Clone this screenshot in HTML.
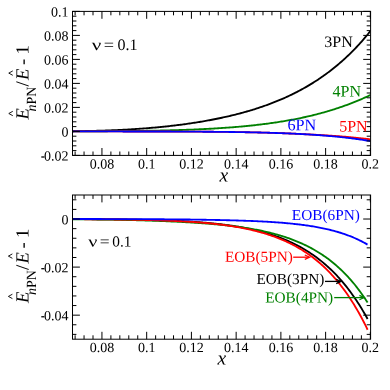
<!DOCTYPE html>
<html><head><meta charset="utf-8"><title>chart</title>
<style>html,body{margin:0;padding:0;background:#fff;width:390px;height:390px;overflow:hidden}</style></head>
<body>
<svg width="390" height="390" viewBox="0 0 390 390" style="position:absolute;left:0;top:0;will-change:transform" font-family="Liberation Serif, serif">
<rect width="390" height="390" fill="#fff"/>
<clipPath id="ct"><rect x="72.5" y="11.4" width="298.1" height="144.0"/></clipPath>
<g clip-path="url(#ct)">
<path d="M72.13,131.22 L73.38,131.21 L74.62,131.20 L75.87,131.18 L77.12,131.16 L78.37,131.15 L79.62,131.13 L80.86,131.11 L82.11,131.09 L83.36,131.07 L84.61,131.05 L85.85,131.03 L87.10,131.00 L88.35,130.98 L89.60,130.95 L90.84,130.92 L92.09,130.90 L93.34,130.87 L94.59,130.84 L95.84,130.80 L97.08,130.77 L98.33,130.74 L99.58,130.70 L100.83,130.67 L102.07,130.63 L103.32,130.59 L104.57,130.55 L105.82,130.50 L107.07,130.46 L108.31,130.42 L109.56,130.37 L110.81,130.32 L112.06,130.27 L113.30,130.22 L114.55,130.17 L115.80,130.11 L117.05,130.06 L118.30,130.00 L119.54,129.94 L120.79,129.88 L122.04,129.82 L123.29,129.76 L124.53,129.69 L125.78,129.63 L127.03,129.56 L128.28,129.49 L129.53,129.41 L130.77,129.34 L132.02,129.26 L133.27,129.19 L134.52,129.11 L135.76,129.03 L137.01,128.94 L138.26,128.86 L139.51,128.77 L140.76,128.68 L142.00,128.59 L143.25,128.50 L144.50,128.40 L145.75,128.31 L146.99,128.21 L148.24,128.11 L149.49,128.01 L150.74,127.90 L151.98,127.79 L153.23,127.69 L154.48,127.57 L155.73,127.46 L156.98,127.35 L158.22,127.23 L159.47,127.11 L160.72,126.99 L161.97,126.86 L163.21,126.74 L164.46,126.61 L165.71,126.48 L166.96,126.34 L168.21,126.21 L169.45,126.07 L170.70,125.93 L171.95,125.79 L173.20,125.64 L174.44,125.49 L175.69,125.34 L176.94,125.19 L178.19,125.03 L179.44,124.88 L180.68,124.72 L181.93,124.55 L183.18,124.39 L184.43,124.22 L185.67,124.05 L186.92,123.87 L188.17,123.69 L189.42,123.52 L190.67,123.33 L191.91,123.15 L193.16,122.96 L194.41,122.77 L195.66,122.57 L196.90,122.38 L198.15,122.18 L199.40,121.97 L200.65,121.77 L201.90,121.56 L203.14,121.34 L204.39,121.13 L205.64,120.91 L206.89,120.68 L208.13,120.46 L209.38,120.23 L210.63,119.99 L211.88,119.76 L213.12,119.52 L214.37,119.27 L215.62,119.03 L216.87,118.78 L218.12,118.52 L219.36,118.26 L220.61,118.00 L221.86,117.73 L223.11,117.46 L224.35,117.19 L225.60,116.91 L226.85,116.63 L228.10,116.34 L229.35,116.05 L230.59,115.76 L231.84,115.46 L233.09,115.15 L234.34,114.85 L235.58,114.53 L236.83,114.22 L238.08,113.89 L239.33,113.57 L240.58,113.24 L241.82,112.90 L243.07,112.56 L244.32,112.21 L245.57,111.86 L246.81,111.51 L248.06,111.15 L249.31,110.78 L250.56,110.41 L251.81,110.03 L253.05,109.65 L254.30,109.26 L255.55,108.87 L256.80,108.47 L258.04,108.06 L259.29,107.65 L260.54,107.23 L261.79,106.81 L263.04,106.38 L264.28,105.94 L265.53,105.50 L266.78,105.05 L268.03,104.60 L269.27,104.13 L270.52,103.66 L271.77,103.19 L273.02,102.71 L274.26,102.22 L275.51,101.72 L276.76,101.22 L278.01,100.70 L279.26,100.18 L280.50,99.66 L281.75,99.12 L283.00,98.58 L284.25,98.03 L285.49,97.47 L286.74,96.91 L287.99,96.33 L289.24,95.75 L290.49,95.15 L291.73,94.55 L292.98,93.94 L294.23,93.33 L295.48,92.70 L296.72,92.06 L297.97,91.41 L299.22,90.76 L300.47,90.09 L301.72,89.41 L302.96,88.73 L304.21,88.03 L305.46,87.33 L306.71,86.61 L307.95,85.88 L309.20,85.14 L310.45,84.39 L311.70,83.63 L312.95,82.86 L314.19,82.07 L315.44,81.28 L316.69,80.47 L317.94,79.65 L319.18,78.82 L320.43,77.97 L321.68,77.11 L322.93,76.24 L324.18,75.36 L325.42,74.46 L326.67,73.55 L327.92,72.63 L329.17,71.69 L330.41,70.73 L331.66,69.77 L332.91,68.78 L334.16,67.79 L335.40,66.77 L336.65,65.75 L337.90,64.70 L339.15,63.64 L340.40,62.57 L341.64,61.48 L342.89,60.37 L344.14,59.24 L345.39,58.10 L346.63,56.94 L347.88,55.76 L349.13,54.56 L350.38,53.35 L351.63,52.11 L352.87,50.86 L354.12,49.59 L355.37,48.30 L356.62,46.99 L357.86,45.65 L359.11,44.30 L360.36,42.93 L361.61,41.53 L362.86,40.11 L364.10,38.68 L365.35,37.21 L366.60,35.73 L367.85,34.22 L369.09,32.69 L370.34,31.14" fill="none" stroke="#000000" stroke-width="1.85" stroke-linejoin="round" stroke-linecap="butt"/>
<path d="M72.13,131.34 L73.38,131.34 L74.62,131.34 L75.87,131.34 L77.12,131.33 L78.37,131.33 L79.62,131.33 L80.86,131.32 L82.11,131.32 L83.36,131.31 L84.61,131.31 L85.85,131.31 L87.10,131.30 L88.35,131.30 L89.60,131.29 L90.84,131.29 L92.09,131.28 L93.34,131.28 L94.59,131.27 L95.84,131.27 L97.08,131.26 L98.33,131.26 L99.58,131.25 L100.83,131.24 L102.07,131.24 L103.32,131.23 L104.57,131.22 L105.82,131.21 L107.07,131.21 L108.31,131.20 L109.56,131.19 L110.81,131.18 L112.06,131.17 L113.30,131.17 L114.55,131.16 L115.80,131.15 L117.05,131.14 L118.30,131.13 L119.54,131.12 L120.79,131.11 L122.04,131.09 L123.29,131.08 L124.53,131.07 L125.78,131.06 L127.03,131.05 L128.28,131.03 L129.53,131.02 L130.77,131.01 L132.02,130.99 L133.27,130.98 L134.52,130.96 L135.76,130.95 L137.01,130.93 L138.26,130.91 L139.51,130.90 L140.76,130.88 L142.00,130.86 L143.25,130.84 L144.50,130.83 L145.75,130.81 L146.99,130.79 L148.24,130.77 L149.49,130.74 L150.74,130.72 L151.98,130.70 L153.23,130.68 L154.48,130.65 L155.73,130.63 L156.98,130.61 L158.22,130.58 L159.47,130.55 L160.72,130.53 L161.97,130.50 L163.21,130.47 L164.46,130.44 L165.71,130.41 L166.96,130.38 L168.21,130.35 L169.45,130.32 L170.70,130.29 L171.95,130.26 L173.20,130.22 L174.44,130.19 L175.69,130.15 L176.94,130.11 L178.19,130.07 L179.44,130.04 L180.68,130.00 L181.93,129.96 L183.18,129.91 L184.43,129.87 L185.67,129.83 L186.92,129.78 L188.17,129.74 L189.42,129.69 L190.67,129.64 L191.91,129.60 L193.16,129.55 L194.41,129.49 L195.66,129.44 L196.90,129.39 L198.15,129.33 L199.40,129.28 L200.65,129.22 L201.90,129.16 L203.14,129.10 L204.39,129.04 L205.64,128.98 L206.89,128.91 L208.13,128.85 L209.38,128.78 L210.63,128.72 L211.88,128.65 L213.12,128.57 L214.37,128.50 L215.62,128.43 L216.87,128.35 L218.12,128.28 L219.36,128.20 L220.61,128.12 L221.86,128.03 L223.11,127.95 L224.35,127.87 L225.60,127.78 L226.85,127.69 L228.10,127.60 L229.35,127.51 L230.59,127.41 L231.84,127.31 L233.09,127.22 L234.34,127.12 L235.58,127.01 L236.83,126.91 L238.08,126.80 L239.33,126.69 L240.58,126.58 L241.82,126.47 L243.07,126.36 L244.32,126.24 L245.57,126.12 L246.81,126.00 L248.06,125.87 L249.31,125.75 L250.56,125.62 L251.81,125.49 L253.05,125.35 L254.30,125.22 L255.55,125.08 L256.80,124.94 L258.04,124.79 L259.29,124.65 L260.54,124.50 L261.79,124.35 L263.04,124.19 L264.28,124.03 L265.53,123.87 L266.78,123.71 L268.03,123.55 L269.27,123.38 L270.52,123.20 L271.77,123.03 L273.02,122.85 L274.26,122.67 L275.51,122.48 L276.76,122.30 L278.01,122.11 L279.26,121.91 L280.50,121.71 L281.75,121.51 L283.00,121.31 L284.25,121.10 L285.49,120.89 L286.74,120.67 L287.99,120.45 L289.24,120.23 L290.49,120.00 L291.73,119.77 L292.98,119.54 L294.23,119.30 L295.48,119.06 L296.72,118.81 L297.97,118.56 L299.22,118.31 L300.47,118.05 L301.72,117.79 L302.96,117.52 L304.21,117.25 L305.46,116.98 L306.71,116.70 L307.95,116.41 L309.20,116.12 L310.45,115.83 L311.70,115.53 L312.95,115.23 L314.19,114.92 L315.44,114.61 L316.69,114.29 L317.94,113.97 L319.18,113.64 L320.43,113.31 L321.68,112.97 L322.93,112.63 L324.18,112.28 L325.42,111.93 L326.67,111.57 L327.92,111.20 L329.17,110.83 L330.41,110.46 L331.66,110.08 L332.91,109.69 L334.16,109.30 L335.40,108.90 L336.65,108.49 L337.90,108.08 L339.15,107.66 L340.40,107.24 L341.64,106.81 L342.89,106.38 L344.14,105.93 L345.39,105.49 L346.63,105.03 L347.88,104.57 L349.13,104.10 L350.38,103.63 L351.63,103.14 L352.87,102.66 L354.12,102.16 L355.37,101.66 L356.62,101.15 L357.86,100.63 L359.11,100.10 L360.36,99.57 L361.61,99.03 L362.86,98.49 L364.10,97.93 L365.35,97.37 L366.60,96.80 L367.85,96.22 L369.09,95.63 L370.34,95.04" fill="none" stroke="#008000" stroke-width="1.85" stroke-linejoin="round" stroke-linecap="butt"/>
<path d="M72.13,131.41 L73.38,131.42 L74.62,131.42 L75.87,131.42 L77.12,131.42 L78.37,131.42 L79.62,131.42 L80.86,131.42 L82.11,131.42 L83.36,131.42 L84.61,131.42 L85.85,131.42 L87.10,131.42 L88.35,131.42 L89.60,131.42 L90.84,131.42 L92.09,131.42 L93.34,131.42 L94.59,131.42 L95.84,131.43 L97.08,131.43 L98.33,131.43 L99.58,131.43 L100.83,131.43 L102.07,131.43 L103.32,131.43 L104.57,131.43 L105.82,131.43 L107.07,131.43 L108.31,131.43 L109.56,131.43 L110.81,131.44 L112.06,131.44 L113.30,131.44 L114.55,131.44 L115.80,131.44 L117.05,131.44 L118.30,131.44 L119.54,131.44 L120.79,131.44 L122.04,131.45 L123.29,131.45 L124.53,131.45 L125.78,131.45 L127.03,131.45 L128.28,131.45 L129.53,131.45 L130.77,131.46 L132.02,131.46 L133.27,131.46 L134.52,131.46 L135.76,131.46 L137.01,131.46 L138.26,131.47 L139.51,131.47 L140.76,131.47 L142.00,131.47 L143.25,131.48 L144.50,131.48 L145.75,131.48 L146.99,131.48 L148.24,131.48 L149.49,131.49 L150.74,131.49 L151.98,131.49 L153.23,131.49 L154.48,131.50 L155.73,131.50 L156.98,131.50 L158.22,131.51 L159.47,131.51 L160.72,131.51 L161.97,131.52 L163.21,131.52 L164.46,131.52 L165.71,131.53 L166.96,131.53 L168.21,131.54 L169.45,131.54 L170.70,131.54 L171.95,131.55 L173.20,131.55 L174.44,131.56 L175.69,131.56 L176.94,131.57 L178.19,131.57 L179.44,131.58 L180.68,131.58 L181.93,131.59 L183.18,131.59 L184.43,131.60 L185.67,131.60 L186.92,131.61 L188.17,131.62 L189.42,131.62 L190.67,131.63 L191.91,131.64 L193.16,131.64 L194.41,131.65 L195.66,131.66 L196.90,131.67 L198.15,131.67 L199.40,131.68 L200.65,131.69 L201.90,131.70 L203.14,131.71 L204.39,131.72 L205.64,131.73 L206.89,131.74 L208.13,131.75 L209.38,131.76 L210.63,131.77 L211.88,131.78 L213.12,131.79 L214.37,131.80 L215.62,131.81 L216.87,131.83 L218.12,131.84 L219.36,131.85 L220.61,131.86 L221.86,131.88 L223.11,131.89 L224.35,131.91 L225.60,131.92 L226.85,131.94 L228.10,131.95 L229.35,131.97 L230.59,131.98 L231.84,132.00 L233.09,132.02 L234.34,132.03 L235.58,132.05 L236.83,132.07 L238.08,132.09 L239.33,132.11 L240.58,132.13 L241.82,132.15 L243.07,132.17 L244.32,132.19 L245.57,132.22 L246.81,132.24 L248.06,132.26 L249.31,132.29 L250.56,132.31 L251.81,132.34 L253.05,132.36 L254.30,132.39 L255.55,132.42 L256.80,132.45 L258.04,132.47 L259.29,132.50 L260.54,132.53 L261.79,132.57 L263.04,132.60 L264.28,132.63 L265.53,132.66 L266.78,132.70 L268.03,132.73 L269.27,132.77 L270.52,132.81 L271.77,132.84 L273.02,132.88 L274.26,132.92 L275.51,132.96 L276.76,133.00 L278.01,133.05 L279.26,133.09 L280.50,133.14 L281.75,133.18 L283.00,133.23 L284.25,133.28 L285.49,133.32 L286.74,133.38 L287.99,133.43 L289.24,133.48 L290.49,133.53 L291.73,133.59 L292.98,133.64 L294.23,133.70 L295.48,133.76 L296.72,133.82 L297.97,133.87 L299.22,133.93 L300.47,133.99 L301.72,134.05 L302.96,134.11 L304.21,134.17 L305.46,134.24 L306.71,134.30 L307.95,134.36 L309.20,134.43 L310.45,134.49 L311.70,134.56 L312.95,134.62 L314.19,134.69 L315.44,134.76 L316.69,134.83 L317.94,134.90 L319.18,134.97 L320.43,135.04 L321.68,135.12 L322.93,135.19 L324.18,135.27 L325.42,135.34 L326.67,135.42 L327.92,135.50 L329.17,135.58 L330.41,135.67 L331.66,135.75 L332.91,135.84 L334.16,135.92 L335.40,136.01 L336.65,136.10 L337.90,136.20 L339.15,136.29 L340.40,136.39 L341.64,136.48 L342.89,136.58 L344.14,136.68 L345.39,136.79 L346.63,136.89 L347.88,137.00 L349.13,137.11 L350.38,137.22 L351.63,137.33 L352.87,137.45 L354.12,137.57 L355.37,137.69 L356.62,137.81 L357.86,137.94 L359.11,138.06 L360.36,138.20 L361.61,138.33 L362.86,138.47 L364.10,138.60 L365.35,138.75 L366.60,138.89 L367.85,139.04 L369.09,139.19 L370.34,139.34" fill="none" stroke="#ff0000" stroke-width="1.85" stroke-linejoin="round" stroke-linecap="butt"/>
<path d="M72.13,131.41 L73.38,131.42 L74.62,131.42 L75.87,131.42 L77.12,131.42 L78.37,131.42 L79.62,131.42 L80.86,131.42 L82.11,131.42 L83.36,131.42 L84.61,131.42 L85.85,131.42 L87.10,131.42 L88.35,131.42 L89.60,131.42 L90.84,131.42 L92.09,131.42 L93.34,131.42 L94.59,131.42 L95.84,131.43 L97.08,131.43 L98.33,131.43 L99.58,131.43 L100.83,131.43 L102.07,131.43 L103.32,131.43 L104.57,131.43 L105.82,131.43 L107.07,131.43 L108.31,131.43 L109.56,131.43 L110.81,131.44 L112.06,131.44 L113.30,131.44 L114.55,131.44 L115.80,131.44 L117.05,131.44 L118.30,131.44 L119.54,131.44 L120.79,131.44 L122.04,131.45 L123.29,131.45 L124.53,131.45 L125.78,131.45 L127.03,131.45 L128.28,131.45 L129.53,131.45 L130.77,131.46 L132.02,131.46 L133.27,131.46 L134.52,131.46 L135.76,131.46 L137.01,131.46 L138.26,131.47 L139.51,131.47 L140.76,131.47 L142.00,131.47 L143.25,131.48 L144.50,131.48 L145.75,131.48 L146.99,131.48 L148.24,131.48 L149.49,131.49 L150.74,131.49 L151.98,131.49 L153.23,131.49 L154.48,131.50 L155.73,131.50 L156.98,131.50 L158.22,131.51 L159.47,131.51 L160.72,131.51 L161.97,131.52 L163.21,131.52 L164.46,131.52 L165.71,131.53 L166.96,131.53 L168.21,131.54 L169.45,131.54 L170.70,131.54 L171.95,131.55 L173.20,131.55 L174.44,131.56 L175.69,131.56 L176.94,131.57 L178.19,131.57 L179.44,131.58 L180.68,131.58 L181.93,131.59 L183.18,131.59 L184.43,131.60 L185.67,131.60 L186.92,131.61 L188.17,131.62 L189.42,131.62 L190.67,131.63 L191.91,131.64 L193.16,131.64 L194.41,131.65 L195.66,131.66 L196.90,131.67 L198.15,131.67 L199.40,131.68 L200.65,131.69 L201.90,131.70 L203.14,131.71 L204.39,131.72 L205.64,131.73 L206.89,131.74 L208.13,131.75 L209.38,131.76 L210.63,131.77 L211.88,131.78 L213.12,131.79 L214.37,131.80 L215.62,131.81 L216.87,131.83 L218.12,131.84 L219.36,131.85 L220.61,131.86 L221.86,131.88 L223.11,131.89 L224.35,131.91 L225.60,131.92 L226.85,131.94 L228.10,131.95 L229.35,131.97 L230.59,131.98 L231.84,132.00 L233.09,132.02 L234.34,132.03 L235.58,132.05 L236.83,132.07 L238.08,132.09 L239.33,132.11 L240.58,132.13 L241.82,132.15 L243.07,132.17 L244.32,132.19 L245.57,132.22 L246.81,132.24 L248.06,132.26 L249.31,132.29 L250.56,132.31 L251.81,132.34 L253.05,132.36 L254.30,132.39 L255.55,132.42 L256.80,132.45 L258.04,132.47 L259.29,132.50 L260.54,132.53 L261.79,132.57 L263.04,132.60 L264.28,132.63 L265.53,132.66 L266.78,132.70 L268.03,132.73 L269.27,132.77 L270.52,132.81 L271.77,132.84 L273.02,132.88 L274.26,132.92 L275.51,132.96 L276.76,133.00 L278.01,133.05 L279.26,133.09 L280.50,133.14 L281.75,133.18 L283.00,133.23 L284.25,133.28 L285.49,133.32 L286.74,133.38 L287.99,133.43 L289.24,133.48 L290.49,133.53 L291.73,133.59 L292.98,133.64 L294.23,133.70 L295.48,133.76 L296.72,133.82 L297.97,133.88 L299.22,133.95 L300.47,134.01 L301.72,134.08 L302.96,134.15 L304.21,134.22 L305.46,134.29 L306.71,134.36 L307.95,134.43 L309.20,134.51 L310.45,134.59 L311.70,134.67 L312.95,134.75 L314.19,134.83 L315.44,134.91 L316.69,135.00 L317.94,135.09 L319.18,135.18 L320.43,135.27 L321.68,135.37 L322.93,135.46 L324.18,135.56 L325.42,135.66 L326.67,135.76 L327.92,135.87 L329.17,135.98 L330.41,136.09 L331.66,136.20 L332.91,136.31 L334.16,136.43 L335.40,136.55 L336.65,136.67 L337.90,136.79 L339.15,136.92 L340.40,137.05 L341.64,137.18 L342.89,137.32 L344.14,137.45 L345.39,137.59 L346.63,137.74 L347.88,137.88 L349.13,138.03 L350.38,138.18 L351.63,138.34 L352.87,138.50 L354.12,138.66 L355.37,138.83 L356.62,138.99 L357.86,139.17 L359.11,139.34 L360.36,139.52 L361.61,139.70 L362.86,139.89 L364.10,140.08 L365.35,140.27 L366.60,140.47 L367.85,140.67 L369.09,140.87 L370.34,141.08" fill="none" stroke="#0000ff" stroke-width="1.85" stroke-linejoin="round" stroke-linecap="butt"/>
</g>
<clipPath id="cb"><rect x="72.5" y="195.0" width="298.1" height="144.2"/></clipPath>
<g clip-path="url(#cb)">
<path d="M72.50,219.11 L73.73,219.12 L74.97,219.12 L76.20,219.13 L77.44,219.13 L78.67,219.14 L79.91,219.14 L81.14,219.15 L82.38,219.15 L83.61,219.16 L84.85,219.17 L86.08,219.17 L87.32,219.18 L88.55,219.19 L89.79,219.19 L91.02,219.20 L92.26,219.21 L93.49,219.21 L94.73,219.22 L95.96,219.23 L97.19,219.24 L98.43,219.25 L99.66,219.26 L100.90,219.26 L102.13,219.27 L103.37,219.28 L104.60,219.29 L105.84,219.30 L107.07,219.31 L108.31,219.32 L109.54,219.34 L110.78,219.35 L112.01,219.36 L113.25,219.37 L114.48,219.38 L115.72,219.40 L116.95,219.41 L118.18,219.42 L119.42,219.44 L120.65,219.45 L121.89,219.47 L123.12,219.48 L124.36,219.50 L125.59,219.52 L126.83,219.53 L128.06,219.55 L129.30,219.57 L130.53,219.59 L131.77,219.61 L133.00,219.63 L134.24,219.65 L135.47,219.67 L136.71,219.69 L137.94,219.72 L139.18,219.74 L140.41,219.76 L141.64,219.79 L142.88,219.81 L144.11,219.84 L145.35,219.87 L146.58,219.90 L147.82,219.92 L149.05,219.95 L150.29,219.98 L151.52,220.02 L152.76,220.05 L153.99,220.08 L155.23,220.12 L156.46,220.15 L157.70,220.19 L158.93,220.22 L160.17,220.26 L161.40,220.30 L162.64,220.34 L163.87,220.39 L165.10,220.43 L166.34,220.47 L167.57,220.52 L168.81,220.57 L170.04,220.61 L171.28,220.66 L172.51,220.71 L173.75,220.77 L174.98,220.82 L176.22,220.88 L177.45,220.93 L178.69,220.99 L179.92,221.05 L181.16,221.11 L182.39,221.18 L183.63,221.24 L184.86,221.31 L186.09,221.38 L187.33,221.45 L188.56,221.52 L189.80,221.60 L191.03,221.68 L192.27,221.75 L193.50,221.84 L194.74,221.92 L195.97,222.00 L197.21,222.09 L198.44,222.18 L199.68,222.28 L200.91,222.37 L202.15,222.47 L203.38,222.57 L204.62,222.67 L205.85,222.78 L207.09,222.89 L208.32,223.00 L209.55,223.11 L210.79,223.23 L212.02,223.35 L213.26,223.48 L214.49,223.60 L215.73,223.73 L216.96,223.87 L218.20,224.00 L219.43,224.14 L220.67,224.29 L221.90,224.44 L223.14,224.59 L224.37,224.74 L225.61,224.90 L226.84,225.07 L228.08,225.24 L229.31,225.41 L230.55,225.58 L231.78,225.77 L233.01,225.95 L234.25,226.14 L235.48,226.34 L236.72,226.54 L237.95,226.74 L239.19,226.95 L240.42,227.17 L241.66,227.39 L242.89,227.61 L244.13,227.84 L245.36,228.08 L246.60,228.33 L247.83,228.57 L249.07,228.83 L250.30,229.09 L251.54,229.36 L252.77,229.63 L254.01,229.91 L255.24,230.20 L256.47,230.50 L257.71,230.80 L258.94,231.11 L260.18,231.43 L261.41,231.75 L262.65,232.08 L263.88,232.42 L265.12,232.77 L266.35,233.13 L267.59,233.49 L268.82,233.87 L270.06,234.25 L271.29,234.64 L272.53,235.04 L273.76,235.45 L275.00,235.87 L276.23,236.30 L277.46,236.74 L278.70,237.19 L279.93,237.65 L281.17,238.13 L282.40,238.61 L283.64,239.10 L284.87,239.61 L286.11,240.13 L287.34,240.66 L288.58,241.20 L289.81,241.75 L291.05,242.32 L292.28,242.90 L293.52,243.49 L294.75,244.10 L295.99,244.72 L297.22,245.36 L298.46,246.01 L299.69,246.68 L300.92,247.36 L302.16,248.05 L303.39,248.77 L304.63,249.50 L305.86,250.24 L307.10,251.00 L308.33,251.78 L309.57,252.58 L310.80,253.40 L312.04,254.23 L313.27,255.08 L314.51,255.96 L315.74,256.85 L316.98,257.76 L318.21,258.69 L319.45,259.65 L320.68,260.62 L321.92,261.62 L323.15,262.64 L324.38,263.68 L325.62,264.75 L326.85,265.84 L328.09,266.95 L329.32,268.09 L330.56,269.26 L331.79,270.45 L333.03,271.66 L334.26,272.91 L335.50,274.18 L336.73,275.48 L337.97,276.80 L339.20,278.16 L340.44,279.55 L341.67,280.96 L342.91,282.41 L344.14,283.89 L345.37,285.40 L346.61,286.95 L347.84,288.53 L349.08,290.14 L350.31,291.79 L351.55,293.47 L352.78,295.19 L354.02,296.95 L355.25,298.75 L356.49,300.58 L357.72,302.46 L358.96,304.37 L360.19,306.32 L361.43,308.32 L362.66,310.36 L363.90,312.44 L365.13,314.57 L366.37,316.74 L367.60,318.96" fill="none" stroke="#000000" stroke-width="1.85" stroke-linejoin="round" stroke-linecap="butt"/>
<path d="M72.50,219.23 L73.73,219.24 L74.97,219.24 L76.20,219.25 L77.44,219.26 L78.67,219.27 L79.91,219.28 L81.14,219.29 L82.38,219.31 L83.61,219.32 L84.85,219.33 L86.08,219.34 L87.32,219.35 L88.55,219.37 L89.79,219.38 L91.02,219.39 L92.26,219.41 L93.49,219.42 L94.73,219.43 L95.96,219.45 L97.19,219.46 L98.43,219.48 L99.66,219.50 L100.90,219.51 L102.13,219.53 L103.37,219.55 L104.60,219.57 L105.84,219.58 L107.07,219.60 L108.31,219.62 L109.54,219.64 L110.78,219.66 L112.01,219.68 L113.25,219.70 L114.48,219.73 L115.72,219.75 L116.95,219.77 L118.18,219.79 L119.42,219.82 L120.65,219.84 L121.89,219.87 L123.12,219.89 L124.36,219.92 L125.59,219.95 L126.83,219.97 L128.06,220.00 L129.30,220.03 L130.53,220.06 L131.77,220.09 L133.00,220.12 L134.24,220.15 L135.47,220.18 L136.71,220.22 L137.94,220.25 L139.18,220.28 L140.41,220.32 L141.64,220.35 L142.88,220.39 L144.11,220.43 L145.35,220.46 L146.58,220.50 L147.82,220.54 L149.05,220.58 L150.29,220.62 L151.52,220.67 L152.76,220.71 L153.99,220.75 L155.23,220.80 L156.46,220.84 L157.70,220.89 L158.93,220.93 L160.17,220.98 L161.40,221.03 L162.64,221.08 L163.87,221.13 L165.10,221.18 L166.34,221.24 L167.57,221.29 L168.81,221.34 L170.04,221.40 L171.28,221.46 L172.51,221.51 L173.75,221.57 L174.98,221.63 L176.22,221.69 L177.45,221.76 L178.69,221.82 L179.92,221.88 L181.16,221.95 L182.39,222.01 L183.63,222.08 L184.86,222.15 L186.09,222.22 L187.33,222.29 L188.56,222.37 L189.80,222.44 L191.03,222.51 L192.27,222.59 L193.50,222.67 L194.74,222.75 L195.97,222.83 L197.21,222.91 L198.44,222.99 L199.68,223.08 L200.91,223.16 L202.15,223.25 L203.38,223.34 L204.62,223.43 L205.85,223.52 L207.09,223.61 L208.32,223.70 L209.55,223.80 L210.79,223.90 L212.02,224.00 L213.26,224.10 L214.49,224.21 L215.73,224.32 L216.96,224.43 L218.20,224.54 L219.43,224.66 L220.67,224.78 L221.90,224.90 L223.14,225.03 L224.37,225.15 L225.61,225.28 L226.84,225.42 L228.08,225.56 L229.31,225.70 L230.55,225.84 L231.78,225.99 L233.01,226.14 L234.25,226.29 L235.48,226.45 L236.72,226.61 L237.95,226.77 L239.19,226.94 L240.42,227.12 L241.66,227.29 L242.89,227.47 L244.13,227.66 L245.36,227.85 L246.60,228.04 L247.83,228.24 L249.07,228.45 L250.30,228.66 L251.54,228.87 L252.77,229.09 L254.01,229.31 L255.24,229.54 L256.47,229.77 L257.71,230.01 L258.94,230.26 L260.18,230.51 L261.41,230.77 L262.65,231.03 L263.88,231.30 L265.12,231.57 L266.35,231.85 L267.59,232.14 L268.82,232.44 L270.06,232.74 L271.29,233.05 L272.53,233.37 L273.76,233.69 L275.00,234.02 L276.23,234.36 L277.46,234.71 L278.70,235.07 L279.93,235.43 L281.17,235.80 L282.40,236.18 L283.64,236.57 L284.87,236.97 L286.11,237.38 L287.34,237.80 L288.58,238.23 L289.81,238.67 L291.05,239.12 L292.28,239.58 L293.52,240.05 L294.75,240.53 L295.99,241.02 L297.22,241.53 L298.46,242.04 L299.69,242.57 L300.92,243.11 L302.16,243.67 L303.39,244.23 L304.63,244.81 L305.86,245.41 L307.10,246.02 L308.33,246.64 L309.57,247.28 L310.80,247.93 L312.04,248.60 L313.27,249.28 L314.51,249.98 L315.74,250.70 L316.98,251.43 L318.21,252.18 L319.45,252.95 L320.68,253.74 L321.92,254.54 L323.15,255.37 L324.38,256.21 L325.62,257.08 L326.85,257.96 L328.09,258.87 L329.32,259.80 L330.56,260.75 L331.79,261.72 L333.03,262.72 L334.26,263.74 L335.50,264.78 L336.73,265.85 L337.97,266.94 L339.20,268.06 L340.44,269.21 L341.67,270.38 L342.91,271.58 L344.14,272.81 L345.37,274.07 L346.61,275.36 L347.84,276.68 L349.08,278.03 L350.31,279.42 L351.55,280.83 L352.78,282.28 L354.02,283.77 L355.25,285.29 L356.49,286.84 L357.72,288.44 L358.96,290.07 L360.19,291.73 L361.43,293.44 L362.66,295.19 L363.90,296.98 L365.13,298.82 L366.37,300.69 L367.60,302.61" fill="none" stroke="#008000" stroke-width="1.85" stroke-linejoin="round" stroke-linecap="butt"/>
<path d="M72.50,219.14 L73.73,219.15 L74.97,219.15 L76.20,219.16 L77.44,219.17 L78.67,219.17 L79.91,219.18 L81.14,219.19 L82.38,219.19 L83.61,219.20 L84.85,219.21 L86.08,219.21 L87.32,219.22 L88.55,219.23 L89.79,219.24 L91.02,219.25 L92.26,219.26 L93.49,219.26 L94.73,219.27 L95.96,219.28 L97.19,219.29 L98.43,219.30 L99.66,219.31 L100.90,219.32 L102.13,219.33 L103.37,219.34 L104.60,219.36 L105.84,219.37 L107.07,219.38 L108.31,219.39 L109.54,219.40 L110.78,219.42 L112.01,219.43 L113.25,219.44 L114.48,219.46 L115.72,219.47 L116.95,219.49 L118.18,219.50 L119.42,219.52 L120.65,219.53 L121.89,219.55 L123.12,219.57 L124.36,219.58 L125.59,219.60 L126.83,219.62 L128.06,219.64 L129.30,219.66 L130.53,219.68 L131.77,219.70 L133.00,219.72 L134.24,219.74 L135.47,219.77 L136.71,219.79 L137.94,219.81 L139.18,219.84 L140.41,219.86 L141.64,219.89 L142.88,219.92 L144.11,219.95 L145.35,219.97 L146.58,220.00 L147.82,220.03 L149.05,220.07 L150.29,220.10 L151.52,220.13 L152.76,220.17 L153.99,220.20 L155.23,220.24 L156.46,220.27 L157.70,220.31 L158.93,220.35 L160.17,220.39 L161.40,220.43 L162.64,220.48 L163.87,220.52 L165.10,220.57 L166.34,220.61 L167.57,220.66 L168.81,220.71 L170.04,220.76 L171.28,220.81 L172.51,220.87 L173.75,220.92 L174.98,220.98 L176.22,221.03 L177.45,221.09 L178.69,221.16 L179.92,221.22 L181.16,221.28 L182.39,221.35 L183.63,221.42 L184.86,221.49 L186.09,221.56 L187.33,221.64 L188.56,221.71 L189.80,221.79 L191.03,221.87 L192.27,221.95 L193.50,222.04 L194.74,222.13 L195.97,222.22 L197.21,222.31 L198.44,222.40 L199.68,222.50 L200.91,222.60 L202.15,222.70 L203.38,222.81 L204.62,222.91 L205.85,223.02 L207.09,223.14 L208.32,223.26 L209.55,223.38 L210.79,223.50 L212.02,223.62 L213.26,223.75 L214.49,223.89 L215.73,224.02 L216.96,224.16 L218.20,224.31 L219.43,224.46 L220.67,224.61 L221.90,224.76 L223.14,224.92 L224.37,225.08 L225.61,225.25 L226.84,225.42 L228.08,225.60 L229.31,225.78 L230.55,225.97 L231.78,226.16 L233.01,226.35 L234.25,226.55 L235.48,226.76 L236.72,226.97 L237.95,227.19 L239.19,227.41 L240.42,227.63 L241.66,227.87 L242.89,228.11 L244.13,228.35 L245.36,228.60 L246.60,228.86 L247.83,229.12 L249.07,229.39 L250.30,229.67 L251.54,229.95 L252.77,230.24 L254.01,230.54 L255.24,230.85 L256.47,231.16 L257.71,231.48 L258.94,231.81 L260.18,232.15 L261.41,232.49 L262.65,232.85 L263.88,233.21 L265.12,233.58 L266.35,233.96 L267.59,234.35 L268.82,234.75 L270.06,235.16 L271.29,235.58 L272.53,236.01 L273.76,236.45 L275.00,236.90 L276.23,237.36 L277.46,237.83 L278.70,238.31 L279.93,238.81 L281.17,239.32 L282.40,239.84 L283.64,240.37 L284.87,240.92 L286.11,241.47 L287.34,242.05 L288.58,242.63 L289.81,243.23 L291.05,243.85 L292.28,244.47 L293.52,245.12 L294.75,245.78 L295.99,246.45 L297.22,247.14 L298.46,247.85 L299.69,248.58 L300.92,249.32 L302.16,250.08 L303.39,250.85 L304.63,251.65 L305.86,252.47 L307.10,253.30 L308.33,254.15 L309.57,255.03 L310.80,255.92 L312.04,256.84 L313.27,257.78 L314.51,258.74 L315.74,259.72 L316.98,260.72 L318.21,261.75 L319.45,262.81 L320.68,263.88 L321.92,264.99 L323.15,266.11 L324.38,267.27 L325.62,268.45 L326.85,269.66 L328.09,270.90 L329.32,272.17 L330.56,273.46 L331.79,274.79 L333.03,276.14 L334.26,277.53 L335.50,278.95 L336.73,280.40 L337.97,281.89 L339.20,283.41 L340.44,284.97 L341.67,286.56 L342.91,288.19 L344.14,289.85 L345.37,291.55 L346.61,293.30 L347.84,295.08 L349.08,296.90 L350.31,298.76 L351.55,300.67 L352.78,302.62 L354.02,304.61 L355.25,306.65 L356.49,308.73 L357.72,310.86 L358.96,313.04 L360.19,315.27 L361.43,317.55 L362.66,319.88 L363.90,322.26 L365.13,324.69 L366.37,327.18 L367.60,329.73" fill="none" stroke="#ff0000" stroke-width="1.85" stroke-linejoin="round" stroke-linecap="butt"/>
<path d="M72.50,219.01 L73.73,219.02 L74.97,219.02 L76.20,219.02 L77.44,219.02 L78.67,219.02 L79.91,219.02 L81.14,219.02 L82.37,219.02 L83.61,219.02 L84.84,219.02 L86.08,219.03 L87.31,219.03 L88.55,219.03 L89.78,219.03 L91.01,219.03 L92.25,219.03 L93.48,219.03 L94.72,219.04 L95.95,219.04 L97.19,219.04 L98.42,219.04 L99.65,219.04 L100.89,219.04 L102.12,219.05 L103.36,219.05 L104.59,219.05 L105.83,219.05 L107.06,219.05 L108.29,219.06 L109.53,219.06 L110.76,219.06 L112.00,219.06 L113.23,219.07 L114.47,219.07 L115.70,219.07 L116.94,219.08 L118.17,219.08 L119.40,219.08 L120.64,219.08 L121.87,219.09 L123.11,219.09 L124.34,219.09 L125.58,219.10 L126.81,219.10 L128.04,219.11 L129.28,219.11 L130.51,219.11 L131.75,219.12 L132.98,219.12 L134.22,219.13 L135.45,219.13 L136.68,219.14 L137.92,219.14 L139.15,219.15 L140.39,219.15 L141.62,219.16 L142.86,219.16 L144.09,219.17 L145.32,219.18 L146.56,219.18 L147.79,219.19 L149.03,219.19 L150.26,219.20 L151.50,219.21 L152.73,219.22 L153.96,219.22 L155.20,219.23 L156.43,219.24 L157.67,219.25 L158.90,219.25 L160.14,219.26 L161.37,219.27 L162.60,219.28 L163.84,219.29 L165.07,219.30 L166.31,219.31 L167.54,219.32 L168.78,219.33 L170.01,219.34 L171.24,219.35 L172.48,219.36 L173.71,219.37 L174.95,219.38 L176.18,219.39 L177.42,219.41 L178.65,219.42 L179.88,219.43 L181.12,219.44 L182.35,219.46 L183.59,219.47 L184.82,219.48 L186.06,219.50 L187.29,219.51 L188.53,219.53 L189.76,219.54 L190.99,219.56 L192.23,219.58 L193.46,219.59 L194.70,219.61 L195.93,219.63 L197.17,219.64 L198.40,219.66 L199.63,219.68 L200.87,219.70 L202.10,219.72 L203.34,219.74 L204.57,219.76 L205.81,219.78 L207.04,219.80 L208.27,219.82 L209.51,219.85 L210.74,219.87 L211.98,219.89 L213.21,219.92 L214.45,219.94 L215.68,219.96 L216.91,219.99 L218.15,220.02 L219.38,220.04 L220.62,220.07 L221.85,220.10 L223.09,220.13 L224.32,220.15 L225.55,220.18 L226.79,220.21 L228.02,220.25 L229.26,220.28 L230.49,220.31 L231.73,220.34 L232.96,220.38 L234.19,220.41 L235.43,220.44 L236.66,220.48 L237.90,220.52 L239.13,220.55 L240.37,220.59 L241.60,220.63 L242.83,220.67 L244.07,220.71 L245.30,220.75 L246.54,220.80 L247.77,220.84 L249.01,220.89 L250.24,220.94 L251.47,220.99 L252.71,221.04 L253.94,221.09 L255.18,221.14 L256.41,221.20 L257.65,221.25 L258.88,221.31 L260.12,221.37 L261.35,221.43 L262.58,221.50 L263.82,221.56 L265.05,221.63 L266.29,221.70 L267.52,221.77 L268.76,221.84 L269.99,221.92 L271.22,221.99 L272.46,222.07 L273.69,222.15 L274.93,222.24 L276.16,222.32 L277.40,222.41 L278.63,222.50 L279.86,222.60 L281.10,222.69 L282.33,222.79 L283.57,222.90 L284.80,223.00 L286.04,223.11 L287.27,223.22 L288.50,223.33 L289.74,223.45 L290.97,223.57 L292.21,223.70 L293.44,223.83 L294.68,223.96 L295.91,224.09 L297.14,224.23 L298.38,224.38 L299.61,224.53 L300.85,224.68 L302.08,224.83 L303.32,225.00 L304.55,225.16 L305.78,225.33 L307.02,225.51 L308.25,225.69 L309.49,225.87 L310.72,226.06 L311.96,226.26 L313.19,226.46 L314.42,226.67 L315.66,226.89 L316.89,227.11 L318.13,227.33 L319.36,227.57 L320.60,227.81 L321.83,228.05 L323.06,228.31 L324.30,228.57 L325.53,228.84 L326.77,229.12 L328.00,229.40 L329.24,229.70 L330.47,230.00 L331.71,230.31 L332.94,230.63 L334.17,230.96 L335.41,231.30 L336.64,231.64 L337.88,232.00 L339.11,232.37 L340.35,232.75 L341.58,233.14 L342.81,233.54 L344.05,233.96 L345.28,234.38 L346.52,234.82 L347.75,235.27 L348.99,235.74 L350.22,236.22 L351.45,236.71 L352.69,237.21 L353.92,237.73 L355.16,238.27 L356.39,238.82 L357.63,239.39 L358.86,239.98 L360.09,240.58 L361.33,241.20 L362.56,241.84 L363.80,242.49 L365.03,243.17 L366.27,243.86 L367.50,244.58" fill="none" stroke="#0000ff" stroke-width="1.85" stroke-linejoin="round" stroke-linecap="butt"/>
</g>
<rect x="72.50" y="11.40" width="298.10" height="144.00" fill="none" stroke="#000" stroke-width="1.0"/>
<line x1="75.11" y1="155.40" x2="75.11" y2="151.50" stroke="#000" stroke-width="1.0"/>
<line x1="75.11" y1="11.40" x2="75.11" y2="15.30" stroke="#000" stroke-width="1.0"/>
<line x1="84.06" y1="155.40" x2="84.06" y2="151.50" stroke="#000" stroke-width="1.0"/>
<line x1="84.06" y1="11.40" x2="84.06" y2="15.30" stroke="#000" stroke-width="1.0"/>
<line x1="93.00" y1="155.40" x2="93.00" y2="151.50" stroke="#000" stroke-width="1.0"/>
<line x1="93.00" y1="11.40" x2="93.00" y2="15.30" stroke="#000" stroke-width="1.0"/>
<line x1="101.95" y1="155.40" x2="101.95" y2="148.00" stroke="#000" stroke-width="1.0"/>
<line x1="101.95" y1="11.40" x2="101.95" y2="18.80" stroke="#000" stroke-width="1.0"/>
<line x1="110.90" y1="155.40" x2="110.90" y2="151.50" stroke="#000" stroke-width="1.0"/>
<line x1="110.90" y1="11.40" x2="110.90" y2="15.30" stroke="#000" stroke-width="1.0"/>
<line x1="119.84" y1="155.40" x2="119.84" y2="151.50" stroke="#000" stroke-width="1.0"/>
<line x1="119.84" y1="11.40" x2="119.84" y2="15.30" stroke="#000" stroke-width="1.0"/>
<line x1="128.79" y1="155.40" x2="128.79" y2="151.50" stroke="#000" stroke-width="1.0"/>
<line x1="128.79" y1="11.40" x2="128.79" y2="15.30" stroke="#000" stroke-width="1.0"/>
<line x1="137.74" y1="155.40" x2="137.74" y2="151.50" stroke="#000" stroke-width="1.0"/>
<line x1="137.74" y1="11.40" x2="137.74" y2="15.30" stroke="#000" stroke-width="1.0"/>
<line x1="146.68" y1="155.40" x2="146.68" y2="148.00" stroke="#000" stroke-width="1.0"/>
<line x1="146.68" y1="11.40" x2="146.68" y2="18.80" stroke="#000" stroke-width="1.0"/>
<line x1="155.63" y1="155.40" x2="155.63" y2="151.50" stroke="#000" stroke-width="1.0"/>
<line x1="155.63" y1="11.40" x2="155.63" y2="15.30" stroke="#000" stroke-width="1.0"/>
<line x1="164.57" y1="155.40" x2="164.57" y2="151.50" stroke="#000" stroke-width="1.0"/>
<line x1="164.57" y1="11.40" x2="164.57" y2="15.30" stroke="#000" stroke-width="1.0"/>
<line x1="173.52" y1="155.40" x2="173.52" y2="151.50" stroke="#000" stroke-width="1.0"/>
<line x1="173.52" y1="11.40" x2="173.52" y2="15.30" stroke="#000" stroke-width="1.0"/>
<line x1="182.47" y1="155.40" x2="182.47" y2="151.50" stroke="#000" stroke-width="1.0"/>
<line x1="182.47" y1="11.40" x2="182.47" y2="15.30" stroke="#000" stroke-width="1.0"/>
<line x1="191.41" y1="155.40" x2="191.41" y2="148.00" stroke="#000" stroke-width="1.0"/>
<line x1="191.41" y1="11.40" x2="191.41" y2="18.80" stroke="#000" stroke-width="1.0"/>
<line x1="200.36" y1="155.40" x2="200.36" y2="151.50" stroke="#000" stroke-width="1.0"/>
<line x1="200.36" y1="11.40" x2="200.36" y2="15.30" stroke="#000" stroke-width="1.0"/>
<line x1="209.31" y1="155.40" x2="209.31" y2="151.50" stroke="#000" stroke-width="1.0"/>
<line x1="209.31" y1="11.40" x2="209.31" y2="15.30" stroke="#000" stroke-width="1.0"/>
<line x1="218.25" y1="155.40" x2="218.25" y2="151.50" stroke="#000" stroke-width="1.0"/>
<line x1="218.25" y1="11.40" x2="218.25" y2="15.30" stroke="#000" stroke-width="1.0"/>
<line x1="227.20" y1="155.40" x2="227.20" y2="151.50" stroke="#000" stroke-width="1.0"/>
<line x1="227.20" y1="11.40" x2="227.20" y2="15.30" stroke="#000" stroke-width="1.0"/>
<line x1="236.15" y1="155.40" x2="236.15" y2="148.00" stroke="#000" stroke-width="1.0"/>
<line x1="236.15" y1="11.40" x2="236.15" y2="18.80" stroke="#000" stroke-width="1.0"/>
<line x1="245.09" y1="155.40" x2="245.09" y2="151.50" stroke="#000" stroke-width="1.0"/>
<line x1="245.09" y1="11.40" x2="245.09" y2="15.30" stroke="#000" stroke-width="1.0"/>
<line x1="254.04" y1="155.40" x2="254.04" y2="151.50" stroke="#000" stroke-width="1.0"/>
<line x1="254.04" y1="11.40" x2="254.04" y2="15.30" stroke="#000" stroke-width="1.0"/>
<line x1="262.99" y1="155.40" x2="262.99" y2="151.50" stroke="#000" stroke-width="1.0"/>
<line x1="262.99" y1="11.40" x2="262.99" y2="15.30" stroke="#000" stroke-width="1.0"/>
<line x1="271.93" y1="155.40" x2="271.93" y2="151.50" stroke="#000" stroke-width="1.0"/>
<line x1="271.93" y1="11.40" x2="271.93" y2="15.30" stroke="#000" stroke-width="1.0"/>
<line x1="280.88" y1="155.40" x2="280.88" y2="148.00" stroke="#000" stroke-width="1.0"/>
<line x1="280.88" y1="11.40" x2="280.88" y2="18.80" stroke="#000" stroke-width="1.0"/>
<line x1="289.82" y1="155.40" x2="289.82" y2="151.50" stroke="#000" stroke-width="1.0"/>
<line x1="289.82" y1="11.40" x2="289.82" y2="15.30" stroke="#000" stroke-width="1.0"/>
<line x1="298.77" y1="155.40" x2="298.77" y2="151.50" stroke="#000" stroke-width="1.0"/>
<line x1="298.77" y1="11.40" x2="298.77" y2="15.30" stroke="#000" stroke-width="1.0"/>
<line x1="307.72" y1="155.40" x2="307.72" y2="151.50" stroke="#000" stroke-width="1.0"/>
<line x1="307.72" y1="11.40" x2="307.72" y2="15.30" stroke="#000" stroke-width="1.0"/>
<line x1="316.66" y1="155.40" x2="316.66" y2="151.50" stroke="#000" stroke-width="1.0"/>
<line x1="316.66" y1="11.40" x2="316.66" y2="15.30" stroke="#000" stroke-width="1.0"/>
<line x1="325.61" y1="155.40" x2="325.61" y2="148.00" stroke="#000" stroke-width="1.0"/>
<line x1="325.61" y1="11.40" x2="325.61" y2="18.80" stroke="#000" stroke-width="1.0"/>
<line x1="334.56" y1="155.40" x2="334.56" y2="151.50" stroke="#000" stroke-width="1.0"/>
<line x1="334.56" y1="11.40" x2="334.56" y2="15.30" stroke="#000" stroke-width="1.0"/>
<line x1="343.50" y1="155.40" x2="343.50" y2="151.50" stroke="#000" stroke-width="1.0"/>
<line x1="343.50" y1="11.40" x2="343.50" y2="15.30" stroke="#000" stroke-width="1.0"/>
<line x1="352.45" y1="155.40" x2="352.45" y2="151.50" stroke="#000" stroke-width="1.0"/>
<line x1="352.45" y1="11.40" x2="352.45" y2="15.30" stroke="#000" stroke-width="1.0"/>
<line x1="361.40" y1="155.40" x2="361.40" y2="151.50" stroke="#000" stroke-width="1.0"/>
<line x1="361.40" y1="11.40" x2="361.40" y2="15.30" stroke="#000" stroke-width="1.0"/>
<line x1="370.34" y1="155.40" x2="370.34" y2="148.00" stroke="#000" stroke-width="1.0"/>
<line x1="370.34" y1="11.40" x2="370.34" y2="18.80" stroke="#000" stroke-width="1.0"/>
<line x1="72.50" y1="155.40" x2="79.90" y2="155.40" stroke="#000" stroke-width="1.0"/>
<line x1="370.60" y1="155.40" x2="363.20" y2="155.40" stroke="#000" stroke-width="1.0"/>
<line x1="72.50" y1="150.60" x2="76.40" y2="150.60" stroke="#000" stroke-width="1.0"/>
<line x1="370.60" y1="150.60" x2="366.70" y2="150.60" stroke="#000" stroke-width="1.0"/>
<line x1="72.50" y1="145.80" x2="76.40" y2="145.80" stroke="#000" stroke-width="1.0"/>
<line x1="370.60" y1="145.80" x2="366.70" y2="145.80" stroke="#000" stroke-width="1.0"/>
<line x1="72.50" y1="141.00" x2="76.40" y2="141.00" stroke="#000" stroke-width="1.0"/>
<line x1="370.60" y1="141.00" x2="366.70" y2="141.00" stroke="#000" stroke-width="1.0"/>
<line x1="72.50" y1="136.20" x2="76.40" y2="136.20" stroke="#000" stroke-width="1.0"/>
<line x1="370.60" y1="136.20" x2="366.70" y2="136.20" stroke="#000" stroke-width="1.0"/>
<line x1="72.50" y1="131.40" x2="79.90" y2="131.40" stroke="#000" stroke-width="1.0"/>
<line x1="370.60" y1="131.40" x2="363.20" y2="131.40" stroke="#000" stroke-width="1.0"/>
<line x1="72.50" y1="126.60" x2="76.40" y2="126.60" stroke="#000" stroke-width="1.0"/>
<line x1="370.60" y1="126.60" x2="366.70" y2="126.60" stroke="#000" stroke-width="1.0"/>
<line x1="72.50" y1="121.80" x2="76.40" y2="121.80" stroke="#000" stroke-width="1.0"/>
<line x1="370.60" y1="121.80" x2="366.70" y2="121.80" stroke="#000" stroke-width="1.0"/>
<line x1="72.50" y1="117.00" x2="76.40" y2="117.00" stroke="#000" stroke-width="1.0"/>
<line x1="370.60" y1="117.00" x2="366.70" y2="117.00" stroke="#000" stroke-width="1.0"/>
<line x1="72.50" y1="112.20" x2="76.40" y2="112.20" stroke="#000" stroke-width="1.0"/>
<line x1="370.60" y1="112.20" x2="366.70" y2="112.20" stroke="#000" stroke-width="1.0"/>
<line x1="72.50" y1="107.40" x2="79.90" y2="107.40" stroke="#000" stroke-width="1.0"/>
<line x1="370.60" y1="107.40" x2="363.20" y2="107.40" stroke="#000" stroke-width="1.0"/>
<line x1="72.50" y1="102.60" x2="76.40" y2="102.60" stroke="#000" stroke-width="1.0"/>
<line x1="370.60" y1="102.60" x2="366.70" y2="102.60" stroke="#000" stroke-width="1.0"/>
<line x1="72.50" y1="97.80" x2="76.40" y2="97.80" stroke="#000" stroke-width="1.0"/>
<line x1="370.60" y1="97.80" x2="366.70" y2="97.80" stroke="#000" stroke-width="1.0"/>
<line x1="72.50" y1="93.00" x2="76.40" y2="93.00" stroke="#000" stroke-width="1.0"/>
<line x1="370.60" y1="93.00" x2="366.70" y2="93.00" stroke="#000" stroke-width="1.0"/>
<line x1="72.50" y1="88.20" x2="76.40" y2="88.20" stroke="#000" stroke-width="1.0"/>
<line x1="370.60" y1="88.20" x2="366.70" y2="88.20" stroke="#000" stroke-width="1.0"/>
<line x1="72.50" y1="83.40" x2="79.90" y2="83.40" stroke="#000" stroke-width="1.0"/>
<line x1="370.60" y1="83.40" x2="363.20" y2="83.40" stroke="#000" stroke-width="1.0"/>
<line x1="72.50" y1="78.60" x2="76.40" y2="78.60" stroke="#000" stroke-width="1.0"/>
<line x1="370.60" y1="78.60" x2="366.70" y2="78.60" stroke="#000" stroke-width="1.0"/>
<line x1="72.50" y1="73.80" x2="76.40" y2="73.80" stroke="#000" stroke-width="1.0"/>
<line x1="370.60" y1="73.80" x2="366.70" y2="73.80" stroke="#000" stroke-width="1.0"/>
<line x1="72.50" y1="69.00" x2="76.40" y2="69.00" stroke="#000" stroke-width="1.0"/>
<line x1="370.60" y1="69.00" x2="366.70" y2="69.00" stroke="#000" stroke-width="1.0"/>
<line x1="72.50" y1="64.20" x2="76.40" y2="64.20" stroke="#000" stroke-width="1.0"/>
<line x1="370.60" y1="64.20" x2="366.70" y2="64.20" stroke="#000" stroke-width="1.0"/>
<line x1="72.50" y1="59.40" x2="79.90" y2="59.40" stroke="#000" stroke-width="1.0"/>
<line x1="370.60" y1="59.40" x2="363.20" y2="59.40" stroke="#000" stroke-width="1.0"/>
<line x1="72.50" y1="54.60" x2="76.40" y2="54.60" stroke="#000" stroke-width="1.0"/>
<line x1="370.60" y1="54.60" x2="366.70" y2="54.60" stroke="#000" stroke-width="1.0"/>
<line x1="72.50" y1="49.80" x2="76.40" y2="49.80" stroke="#000" stroke-width="1.0"/>
<line x1="370.60" y1="49.80" x2="366.70" y2="49.80" stroke="#000" stroke-width="1.0"/>
<line x1="72.50" y1="45.00" x2="76.40" y2="45.00" stroke="#000" stroke-width="1.0"/>
<line x1="370.60" y1="45.00" x2="366.70" y2="45.00" stroke="#000" stroke-width="1.0"/>
<line x1="72.50" y1="40.20" x2="76.40" y2="40.20" stroke="#000" stroke-width="1.0"/>
<line x1="370.60" y1="40.20" x2="366.70" y2="40.20" stroke="#000" stroke-width="1.0"/>
<line x1="72.50" y1="35.40" x2="79.90" y2="35.40" stroke="#000" stroke-width="1.0"/>
<line x1="370.60" y1="35.40" x2="363.20" y2="35.40" stroke="#000" stroke-width="1.0"/>
<line x1="72.50" y1="30.60" x2="76.40" y2="30.60" stroke="#000" stroke-width="1.0"/>
<line x1="370.60" y1="30.60" x2="366.70" y2="30.60" stroke="#000" stroke-width="1.0"/>
<line x1="72.50" y1="25.80" x2="76.40" y2="25.80" stroke="#000" stroke-width="1.0"/>
<line x1="370.60" y1="25.80" x2="366.70" y2="25.80" stroke="#000" stroke-width="1.0"/>
<line x1="72.50" y1="21.00" x2="76.40" y2="21.00" stroke="#000" stroke-width="1.0"/>
<line x1="370.60" y1="21.00" x2="366.70" y2="21.00" stroke="#000" stroke-width="1.0"/>
<line x1="72.50" y1="16.20" x2="76.40" y2="16.20" stroke="#000" stroke-width="1.0"/>
<line x1="370.60" y1="16.20" x2="366.70" y2="16.20" stroke="#000" stroke-width="1.0"/>
<line x1="72.50" y1="11.40" x2="79.90" y2="11.40" stroke="#000" stroke-width="1.0"/>
<line x1="370.60" y1="11.40" x2="363.20" y2="11.40" stroke="#000" stroke-width="1.0"/>
<rect x="72.50" y="195.00" width="298.10" height="144.20" fill="none" stroke="#000" stroke-width="1.0"/>
<line x1="75.11" y1="339.20" x2="75.11" y2="335.30" stroke="#000" stroke-width="1.0"/>
<line x1="75.11" y1="195.00" x2="75.11" y2="198.90" stroke="#000" stroke-width="1.0"/>
<line x1="84.06" y1="339.20" x2="84.06" y2="335.30" stroke="#000" stroke-width="1.0"/>
<line x1="84.06" y1="195.00" x2="84.06" y2="198.90" stroke="#000" stroke-width="1.0"/>
<line x1="93.00" y1="339.20" x2="93.00" y2="335.30" stroke="#000" stroke-width="1.0"/>
<line x1="93.00" y1="195.00" x2="93.00" y2="198.90" stroke="#000" stroke-width="1.0"/>
<line x1="101.95" y1="339.20" x2="101.95" y2="331.80" stroke="#000" stroke-width="1.0"/>
<line x1="101.95" y1="195.00" x2="101.95" y2="202.40" stroke="#000" stroke-width="1.0"/>
<line x1="110.90" y1="339.20" x2="110.90" y2="335.30" stroke="#000" stroke-width="1.0"/>
<line x1="110.90" y1="195.00" x2="110.90" y2="198.90" stroke="#000" stroke-width="1.0"/>
<line x1="119.84" y1="339.20" x2="119.84" y2="335.30" stroke="#000" stroke-width="1.0"/>
<line x1="119.84" y1="195.00" x2="119.84" y2="198.90" stroke="#000" stroke-width="1.0"/>
<line x1="128.79" y1="339.20" x2="128.79" y2="335.30" stroke="#000" stroke-width="1.0"/>
<line x1="128.79" y1="195.00" x2="128.79" y2="198.90" stroke="#000" stroke-width="1.0"/>
<line x1="137.74" y1="339.20" x2="137.74" y2="335.30" stroke="#000" stroke-width="1.0"/>
<line x1="137.74" y1="195.00" x2="137.74" y2="198.90" stroke="#000" stroke-width="1.0"/>
<line x1="146.68" y1="339.20" x2="146.68" y2="331.80" stroke="#000" stroke-width="1.0"/>
<line x1="146.68" y1="195.00" x2="146.68" y2="202.40" stroke="#000" stroke-width="1.0"/>
<line x1="155.63" y1="339.20" x2="155.63" y2="335.30" stroke="#000" stroke-width="1.0"/>
<line x1="155.63" y1="195.00" x2="155.63" y2="198.90" stroke="#000" stroke-width="1.0"/>
<line x1="164.57" y1="339.20" x2="164.57" y2="335.30" stroke="#000" stroke-width="1.0"/>
<line x1="164.57" y1="195.00" x2="164.57" y2="198.90" stroke="#000" stroke-width="1.0"/>
<line x1="173.52" y1="339.20" x2="173.52" y2="335.30" stroke="#000" stroke-width="1.0"/>
<line x1="173.52" y1="195.00" x2="173.52" y2="198.90" stroke="#000" stroke-width="1.0"/>
<line x1="182.47" y1="339.20" x2="182.47" y2="335.30" stroke="#000" stroke-width="1.0"/>
<line x1="182.47" y1="195.00" x2="182.47" y2="198.90" stroke="#000" stroke-width="1.0"/>
<line x1="191.41" y1="339.20" x2="191.41" y2="331.80" stroke="#000" stroke-width="1.0"/>
<line x1="191.41" y1="195.00" x2="191.41" y2="202.40" stroke="#000" stroke-width="1.0"/>
<line x1="200.36" y1="339.20" x2="200.36" y2="335.30" stroke="#000" stroke-width="1.0"/>
<line x1="200.36" y1="195.00" x2="200.36" y2="198.90" stroke="#000" stroke-width="1.0"/>
<line x1="209.31" y1="339.20" x2="209.31" y2="335.30" stroke="#000" stroke-width="1.0"/>
<line x1="209.31" y1="195.00" x2="209.31" y2="198.90" stroke="#000" stroke-width="1.0"/>
<line x1="218.25" y1="339.20" x2="218.25" y2="335.30" stroke="#000" stroke-width="1.0"/>
<line x1="218.25" y1="195.00" x2="218.25" y2="198.90" stroke="#000" stroke-width="1.0"/>
<line x1="227.20" y1="339.20" x2="227.20" y2="335.30" stroke="#000" stroke-width="1.0"/>
<line x1="227.20" y1="195.00" x2="227.20" y2="198.90" stroke="#000" stroke-width="1.0"/>
<line x1="236.15" y1="339.20" x2="236.15" y2="331.80" stroke="#000" stroke-width="1.0"/>
<line x1="236.15" y1="195.00" x2="236.15" y2="202.40" stroke="#000" stroke-width="1.0"/>
<line x1="245.09" y1="339.20" x2="245.09" y2="335.30" stroke="#000" stroke-width="1.0"/>
<line x1="245.09" y1="195.00" x2="245.09" y2="198.90" stroke="#000" stroke-width="1.0"/>
<line x1="254.04" y1="339.20" x2="254.04" y2="335.30" stroke="#000" stroke-width="1.0"/>
<line x1="254.04" y1="195.00" x2="254.04" y2="198.90" stroke="#000" stroke-width="1.0"/>
<line x1="262.99" y1="339.20" x2="262.99" y2="335.30" stroke="#000" stroke-width="1.0"/>
<line x1="262.99" y1="195.00" x2="262.99" y2="198.90" stroke="#000" stroke-width="1.0"/>
<line x1="271.93" y1="339.20" x2="271.93" y2="335.30" stroke="#000" stroke-width="1.0"/>
<line x1="271.93" y1="195.00" x2="271.93" y2="198.90" stroke="#000" stroke-width="1.0"/>
<line x1="280.88" y1="339.20" x2="280.88" y2="331.80" stroke="#000" stroke-width="1.0"/>
<line x1="280.88" y1="195.00" x2="280.88" y2="202.40" stroke="#000" stroke-width="1.0"/>
<line x1="289.82" y1="339.20" x2="289.82" y2="335.30" stroke="#000" stroke-width="1.0"/>
<line x1="289.82" y1="195.00" x2="289.82" y2="198.90" stroke="#000" stroke-width="1.0"/>
<line x1="298.77" y1="339.20" x2="298.77" y2="335.30" stroke="#000" stroke-width="1.0"/>
<line x1="298.77" y1="195.00" x2="298.77" y2="198.90" stroke="#000" stroke-width="1.0"/>
<line x1="307.72" y1="339.20" x2="307.72" y2="335.30" stroke="#000" stroke-width="1.0"/>
<line x1="307.72" y1="195.00" x2="307.72" y2="198.90" stroke="#000" stroke-width="1.0"/>
<line x1="316.66" y1="339.20" x2="316.66" y2="335.30" stroke="#000" stroke-width="1.0"/>
<line x1="316.66" y1="195.00" x2="316.66" y2="198.90" stroke="#000" stroke-width="1.0"/>
<line x1="325.61" y1="339.20" x2="325.61" y2="331.80" stroke="#000" stroke-width="1.0"/>
<line x1="325.61" y1="195.00" x2="325.61" y2="202.40" stroke="#000" stroke-width="1.0"/>
<line x1="334.56" y1="339.20" x2="334.56" y2="335.30" stroke="#000" stroke-width="1.0"/>
<line x1="334.56" y1="195.00" x2="334.56" y2="198.90" stroke="#000" stroke-width="1.0"/>
<line x1="343.50" y1="339.20" x2="343.50" y2="335.30" stroke="#000" stroke-width="1.0"/>
<line x1="343.50" y1="195.00" x2="343.50" y2="198.90" stroke="#000" stroke-width="1.0"/>
<line x1="352.45" y1="339.20" x2="352.45" y2="335.30" stroke="#000" stroke-width="1.0"/>
<line x1="352.45" y1="195.00" x2="352.45" y2="198.90" stroke="#000" stroke-width="1.0"/>
<line x1="361.40" y1="339.20" x2="361.40" y2="335.30" stroke="#000" stroke-width="1.0"/>
<line x1="361.40" y1="195.00" x2="361.40" y2="198.90" stroke="#000" stroke-width="1.0"/>
<line x1="370.34" y1="339.20" x2="370.34" y2="331.80" stroke="#000" stroke-width="1.0"/>
<line x1="370.34" y1="195.00" x2="370.34" y2="202.40" stroke="#000" stroke-width="1.0"/>
<line x1="72.50" y1="334.39" x2="76.40" y2="334.39" stroke="#000" stroke-width="1.0"/>
<line x1="370.60" y1="334.39" x2="366.70" y2="334.39" stroke="#000" stroke-width="1.0"/>
<line x1="72.50" y1="324.78" x2="76.40" y2="324.78" stroke="#000" stroke-width="1.0"/>
<line x1="370.60" y1="324.78" x2="366.70" y2="324.78" stroke="#000" stroke-width="1.0"/>
<line x1="72.50" y1="315.17" x2="79.90" y2="315.17" stroke="#000" stroke-width="1.0"/>
<line x1="370.60" y1="315.17" x2="363.20" y2="315.17" stroke="#000" stroke-width="1.0"/>
<line x1="72.50" y1="305.55" x2="76.40" y2="305.55" stroke="#000" stroke-width="1.0"/>
<line x1="370.60" y1="305.55" x2="366.70" y2="305.55" stroke="#000" stroke-width="1.0"/>
<line x1="72.50" y1="295.94" x2="76.40" y2="295.94" stroke="#000" stroke-width="1.0"/>
<line x1="370.60" y1="295.94" x2="366.70" y2="295.94" stroke="#000" stroke-width="1.0"/>
<line x1="72.50" y1="286.33" x2="76.40" y2="286.33" stroke="#000" stroke-width="1.0"/>
<line x1="370.60" y1="286.33" x2="366.70" y2="286.33" stroke="#000" stroke-width="1.0"/>
<line x1="72.50" y1="276.71" x2="76.40" y2="276.71" stroke="#000" stroke-width="1.0"/>
<line x1="370.60" y1="276.71" x2="366.70" y2="276.71" stroke="#000" stroke-width="1.0"/>
<line x1="72.50" y1="267.10" x2="79.90" y2="267.10" stroke="#000" stroke-width="1.0"/>
<line x1="370.60" y1="267.10" x2="363.20" y2="267.10" stroke="#000" stroke-width="1.0"/>
<line x1="72.50" y1="257.49" x2="76.40" y2="257.49" stroke="#000" stroke-width="1.0"/>
<line x1="370.60" y1="257.49" x2="366.70" y2="257.49" stroke="#000" stroke-width="1.0"/>
<line x1="72.50" y1="247.87" x2="76.40" y2="247.87" stroke="#000" stroke-width="1.0"/>
<line x1="370.60" y1="247.87" x2="366.70" y2="247.87" stroke="#000" stroke-width="1.0"/>
<line x1="72.50" y1="238.26" x2="76.40" y2="238.26" stroke="#000" stroke-width="1.0"/>
<line x1="370.60" y1="238.26" x2="366.70" y2="238.26" stroke="#000" stroke-width="1.0"/>
<line x1="72.50" y1="228.65" x2="76.40" y2="228.65" stroke="#000" stroke-width="1.0"/>
<line x1="370.60" y1="228.65" x2="366.70" y2="228.65" stroke="#000" stroke-width="1.0"/>
<line x1="72.50" y1="219.03" x2="79.90" y2="219.03" stroke="#000" stroke-width="1.0"/>
<line x1="370.60" y1="219.03" x2="363.20" y2="219.03" stroke="#000" stroke-width="1.0"/>
<line x1="72.50" y1="209.42" x2="76.40" y2="209.42" stroke="#000" stroke-width="1.0"/>
<line x1="370.60" y1="209.42" x2="366.70" y2="209.42" stroke="#000" stroke-width="1.0"/>
<line x1="72.50" y1="199.81" x2="76.40" y2="199.81" stroke="#000" stroke-width="1.0"/>
<line x1="370.60" y1="199.81" x2="366.70" y2="199.81" stroke="#000" stroke-width="1.0"/>
<text x="68.50" y="16.55" transform="rotate(0.03 68.5 16.5)" font-size="14" text-anchor="end" fill="#000">0.1</text>
<text x="68.50" y="40.55" transform="rotate(0.03 68.5 40.6)" font-size="14" text-anchor="end" fill="#000">0.08</text>
<text x="68.50" y="64.55" transform="rotate(0.03 68.5 64.5)" font-size="14" text-anchor="end" fill="#000">0.06</text>
<text x="68.50" y="88.55" transform="rotate(0.03 68.5 88.6)" font-size="14" text-anchor="end" fill="#000">0.04</text>
<text x="68.50" y="112.55" transform="rotate(0.03 68.5 112.6)" font-size="14" text-anchor="end" fill="#000">0.02</text>
<text x="68.50" y="136.55" transform="rotate(0.03 68.5 136.6)" font-size="14" text-anchor="end" fill="#000">0</text>
<text x="68.50" y="160.55" transform="rotate(0.03 68.5 160.6)" font-size="14" text-anchor="end" fill="#000">0.02</text>
<line x1="41.30" y1="157.00" x2="44.40" y2="157.00" stroke="#000" stroke-width="1.3"/>
<text x="68.50" y="224.18" transform="rotate(0.03 68.5 224.2)" font-size="14" text-anchor="end" fill="#000">0</text>
<text x="68.50" y="272.25" transform="rotate(0.03 68.5 272.2)" font-size="14" text-anchor="end" fill="#000">0.02</text>
<line x1="41.30" y1="268.70" x2="44.40" y2="268.70" stroke="#000" stroke-width="1.3"/>
<text x="68.50" y="320.32" transform="rotate(0.03 68.5 320.3)" font-size="14" text-anchor="end" fill="#000">0.04</text>
<line x1="41.30" y1="316.77" x2="44.40" y2="316.77" stroke="#000" stroke-width="1.3"/>
<text x="101.95" y="168.60" transform="rotate(0.03 102.0 168.6)" font-size="14" text-anchor="middle" fill="#000">0.08</text>
<text x="101.95" y="352.10" transform="rotate(0.03 102.0 352.1)" font-size="14" text-anchor="middle" fill="#000">0.08</text>
<text x="146.68" y="168.60" transform="rotate(0.03 146.7 168.6)" font-size="14" text-anchor="middle" fill="#000">0.1</text>
<text x="146.68" y="352.10" transform="rotate(0.03 146.7 352.1)" font-size="14" text-anchor="middle" fill="#000">0.1</text>
<text x="191.41" y="168.60" transform="rotate(0.03 191.4 168.6)" font-size="14" text-anchor="middle" fill="#000">0.12</text>
<text x="191.41" y="352.10" transform="rotate(0.03 191.4 352.1)" font-size="14" text-anchor="middle" fill="#000">0.12</text>
<text x="236.15" y="168.60" transform="rotate(0.03 236.1 168.6)" font-size="14" text-anchor="middle" fill="#000">0.14</text>
<text x="236.15" y="352.10" transform="rotate(0.03 236.1 352.1)" font-size="14" text-anchor="middle" fill="#000">0.14</text>
<text x="280.88" y="168.60" transform="rotate(0.03 280.9 168.6)" font-size="14" text-anchor="middle" fill="#000">0.16</text>
<text x="280.88" y="352.10" transform="rotate(0.03 280.9 352.1)" font-size="14" text-anchor="middle" fill="#000">0.16</text>
<text x="325.61" y="168.60" transform="rotate(0.03 325.6 168.6)" font-size="14" text-anchor="middle" fill="#000">0.18</text>
<text x="325.61" y="352.10" transform="rotate(0.03 325.6 352.1)" font-size="14" text-anchor="middle" fill="#000">0.18</text>
<text x="370.34" y="168.60" transform="rotate(0.03 370.3 168.6)" font-size="14" text-anchor="middle" fill="#000">0.2</text>
<text x="370.34" y="352.10" transform="rotate(0.03 370.3 352.1)" font-size="14" text-anchor="middle" fill="#000">0.2</text>
<text x="219.50" y="181.50" transform="rotate(0.03 219.5 181.5)" font-size="19.5" text-anchor="start" fill="#000" style="font-style:italic">x</text>
<text x="217.40" y="364.60" transform="rotate(0.03 217.4 364.6)" font-size="19.5" text-anchor="start" fill="#000" style="font-style:italic">x</text>
<text transform="translate(91.70,50.00) rotate(0.03) scale(1.32,1)" font-size="16">ν</text>
<text transform="translate(103.70,50.00) rotate(0.03) scale(1.14,1)" font-size="16">=</text>
<text x="117.60" y="50.00" transform="rotate(0.03 117.6 50.0)" font-size="16" text-anchor="start" fill="#000">0.1</text>
<text transform="translate(88.30,246.50) rotate(0.03) scale(1.32,1)" font-size="15.3">ν</text>
<text transform="translate(99.76,246.50) rotate(0.03) scale(1.14,1)" font-size="15.3">=</text>
<text x="112.31" y="246.50" transform="rotate(0.03 112.3 246.5)" font-size="15.3" text-anchor="start" fill="#000">0.1</text>
<text x="324.30" y="46.90" transform="rotate(0.03 324.3 46.9)" font-size="16" text-anchor="start" fill="#000">3PN</text>
<text x="332.60" y="96.50" transform="rotate(0.03 332.6 96.5)" font-size="16" text-anchor="start" fill="#008000">4PN</text>
<text x="287.40" y="130.20" transform="rotate(0.03 287.4 130.2)" font-size="16.2" text-anchor="start" fill="#0000ff">6PN</text>
<text x="339.20" y="131.60" transform="rotate(0.03 339.2 131.6)" font-size="16" text-anchor="start" fill="#ff0000">5PN</text>
<text x="291.80" y="219.90" transform="rotate(0.03 291.8 219.9)" font-size="15.3" text-anchor="start" fill="#0000ff">EOB(6PN)</text>
<text x="224.90" y="261.70" transform="rotate(0.03 224.9 261.7)" font-size="15.3" text-anchor="start" fill="#ff0000">EOB(5PN)</text>
<text x="256.40" y="284.00" transform="rotate(0.03 256.4 284.0)" font-size="15.3" text-anchor="start" fill="#000">EOB(3PN)</text>
<text x="265.20" y="302.40" transform="rotate(0.03 265.2 302.4)" font-size="15.3" text-anchor="start" fill="#008000">EOB(4PN)</text>
<line x1="293.20" y1="257.20" x2="309.10" y2="257.20" stroke="#ff0000" stroke-width="1.3"/>
<path d="M304.80,255.00 L309.60,257.20 L304.80,259.40" fill="none" stroke="#ff0000" stroke-width="1.2"/>
<line x1="325.00" y1="281.40" x2="340.50" y2="281.40" stroke="#000000" stroke-width="1.3"/>
<path d="M336.20,279.20 L341.00,281.40 L336.20,283.60" fill="none" stroke="#000000" stroke-width="1.2"/>
<line x1="334.20" y1="297.60" x2="363.70" y2="297.60" stroke="#008000" stroke-width="1.3"/>
<path d="M359.40,295.40 L364.20,297.60 L359.40,299.80" fill="none" stroke="#008000" stroke-width="1.2"/>
<g transform="translate(28.5,119.4) rotate(-90.03)">
<text font-size="18.5"><tspan x="0" y="0" font-style="italic">E</tspan><tspan x="7.8" y="7.5" font-size="14"><tspan font-style="italic">n</tspan>PN</tspan><tspan x="32.9" y="0">/</tspan><tspan x="39.5" y="0" font-style="italic">E</tspan><tspan x="54.3" y="0">-</tspan><tspan x="65.0" y="0">1</tspan></text>
<path d="M3.70,-15.70 L5.90,-19.70 L8.10,-15.70" fill="none" stroke="#000" stroke-width="0.9"/>
<path d="M44.10,-15.70 L46.30,-19.70 L48.50,-15.70" fill="none" stroke="#000" stroke-width="0.9"/>
</g>
<g transform="translate(28.5,302.9) rotate(-90.03)">
<text font-size="18.5"><tspan x="0" y="0" font-style="italic">E</tspan><tspan x="7.8" y="7.5" font-size="14"><tspan font-style="italic">n</tspan>PN</tspan><tspan x="32.9" y="0">/</tspan><tspan x="39.5" y="0" font-style="italic">E</tspan><tspan x="54.3" y="0">-</tspan><tspan x="65.0" y="0">1</tspan></text>
<path d="M4.30,-16.10 L6.50,-20.10 L8.70,-16.10" fill="none" stroke="#000" stroke-width="0.9"/>
<path d="M44.60,-16.10 L46.80,-20.10 L49.00,-16.10" fill="none" stroke="#000" stroke-width="0.9"/>
</g>
</svg>
</body></html>
